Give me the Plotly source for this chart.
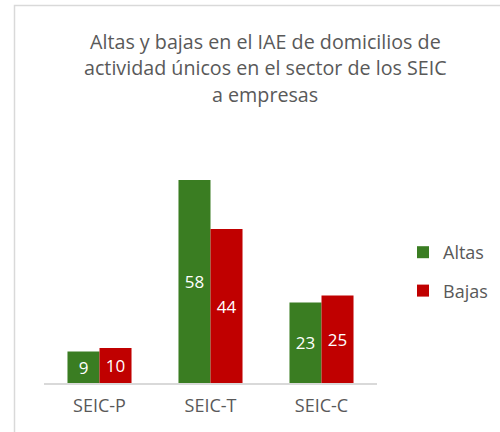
import plotly.graph_objects as go

categories = ["SEIC-P", "SEIC-T", "SEIC-C"]
altas = [9, 58, 23]
bajas = [10, 44, 25]
title_lines = ["Altas y bajas en el IAE de domicilios de",
               "actividad únicos en el sector de los SEIC",
               "a empresas"]

GREEN = "#3a7d22"
RED = "#c00000"
GRAY = "#595959"
FONT = "Open Sans, Arial, sans-serif"

fig = go.Figure()
fig.add_trace(go.Bar(name="Altas", x=categories, y=altas, marker_color=GREEN,
                     text=altas, textposition="inside", insidetextanchor="middle",
                     textfont=dict(color="white", size=17, family=FONT),
                     legendgroup="a", marker_line_width=0))
fig.add_trace(go.Bar(name="Bajas", x=categories, y=bajas, marker_color=RED,
                     text=bajas, textposition="inside", insidetextanchor="middle",
                     textfont=dict(color="white", size=17, family=FONT),
                     legendgroup="b", marker_line_width=0))

L, R, T, B = 44, 123, 138, 49
W, H = 500, 432
pw, ph = W - L - R, H - T - B

def px(x):
    return (x - L) / pw

def py(y):
    return (H - B - y) / ph

annotations = []
for i, line in enumerate(title_lines):
    annotations.append(dict(text=line, x=px(265), y=py(42 + 26 * i),
                            xref="paper", yref="paper", xanchor="center",
                            yanchor="middle", showarrow=False,
                            font=dict(size=19.7, color=GRAY, family=FONT)))

fig.update_layout(
    width=W, height=H,
    margin=dict(l=L, r=R, t=T, b=B, autoexpand=False),
    paper_bgcolor="white", plot_bgcolor="white",
    barmode="group", bargap=0.423, bargroupgap=0,
    font=dict(family=FONT, color=GRAY),
    annotations=annotations,
    xaxis=dict(showline=True, linecolor="#d9d9d9", linewidth=1.5, ticks="",
               ticklabelstandoff=6,
               tickfont=dict(size=18, color=GRAY, family=FONT), showgrid=False),
    yaxis=dict(range=[0, 70], visible=False, showgrid=False, zeroline=False),
    legend=dict(x=px(403), y=py(234), xanchor="left", yanchor="top",
                font=dict(size=18, color=GRAY, family=FONT),
                tracegroupgap=12, itemwidth=30, bgcolor="rgba(0,0,0,0)"),
    shapes=[dict(type="rect", xref="paper", yref="paper",
                 x0=px(14.5), x1=px(520), y0=py(460), y1=py(5.5),
                 line=dict(color="#d9d9d9", width=1.5), fillcolor="rgba(0,0,0,0)",
                 layer="below")],
)

fig.write_html("out.html", config={"displayModeBar": False},
               post_script="document.body.style.margin='0';")
